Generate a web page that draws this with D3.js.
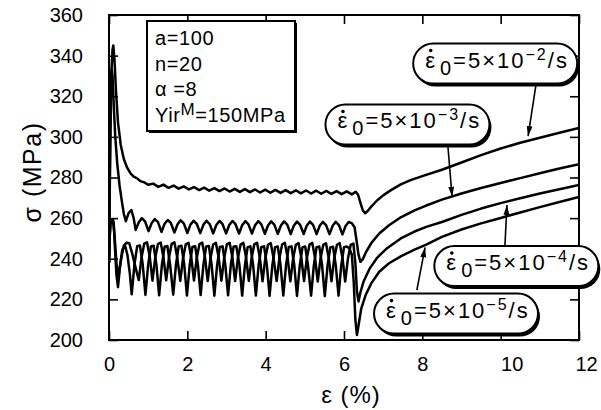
<!DOCTYPE html>
<html>
<head>
<meta charset="utf-8">
<script src="https://cdn.jsdelivr.net/npm/d3@7"></script>
<style>
  body { margin: 0; background: #fff; }
  svg { font-family: "Liberation Sans", Arial, sans-serif; }
</style>
</head>
<body>
<div id="ch"></div>
<script>
// Stress-strain curves, four strain rates

/* DATA : [strain %, stress MPa] */
const rate2 = [
  [0,238],[0.03,292],[0.06,331],[0.09,343],[0.11,345],[0.14,338],[0.18,322],[0.23,307],[0.3,296],[0.38,289],
  [0.46,285],[0.55,282],[0.63,280.4],[0.72,279.6],[0.8,278.2],[0.9,277.6],[1.0,276.4],
  [1.13,277],[1.26,275.4],[1.39,276.5],[1.52,274.9],[1.65,276],[1.78,274.5],[1.91,275.6],[2.04,274.1],
  [2.17,275.3],[2.3,273.8],[2.43,275],[2.56,273.5],[2.69,274.8],[2.82,273.3],[2.95,274.6],[3.08,273.1],
  [3.21,274.4],[3.34,272.9],[3.47,274.3],[3.6,272.8],[3.73,274.1],[3.86,272.6],[3.99,274],[4.12,272.5],
  [4.25,273.9],[4.38,272.4],[4.51,273.8],[4.64,272.3],[4.77,273.7],[4.9,272.2],[5.03,273.6],[5.16,272.1],
  [5.29,273.5],[5.42,272],[5.55,273.4],[5.68,271.9],[5.81,273.3],[5.94,271.8],[6.07,273.2],[6.2,271.7],[6.3,273],
  [6.36,271.5],[6.42,267.5],[6.48,263.8],[6.54,262.4],[6.6,263.4],[6.7,265.8],[6.85,268.8],[7.0,271.2],
  [7.2,273.8],[7.45,276.6],[7.7,278.7],[8.0,280.7],[8.5,283.8],[9.0,287.4],[9.5,291],[10.0,294.3],
  [10.5,297.1],[11.0,299.6],[11.5,302],[12.0,304.4]
];

const rate3 = [
  [0,238],[0.03,300],[0.05,327],[0.07,333],[0.09,330],[0.12,316],[0.16,300],[0.21,287],[0.27,276],[0.33,268],
  [0.38,262],[0.43,258.5],[0.5,262.5],[0.57,264],[0.63,260],
  [0.68,254.2],[0.76,258],[0.84,260],[0.92,258.4],
  [1.01,253.6],[1.09,257.6],[1.17,259.5],[1.25,258],
  [1.34,253.2],[1.42,257.2],[1.5,259.1],[1.58,257.6],
  [1.67,252.9],[1.75,257],[1.83,258.9],[1.91,257.4],
  [2.0,252.7],[2.08,256.8],[2.16,258.7],[2.24,257.2],
  [2.33,252.6],[2.41,256.7],[2.49,258.7],[2.57,257.1],
  [2.66,252.5],[2.74,256.6],[2.82,258.6],[2.9,257],
  [2.99,252.5],[3.07,256.6],[3.15,258.6],[3.23,257],
  [3.32,252.4],[3.4,256.5],[3.48,258.5],[3.56,256.9],
  [3.65,252.4],[3.73,256.5],[3.81,258.5],[3.89,256.9],
  [3.98,252.3],[4.06,256.4],[4.14,258.4],[4.22,256.8],
  [4.31,252.3],[4.39,256.4],[4.47,258.4],[4.55,256.8],
  [4.64,252.2],[4.72,256.3],[4.8,258.3],[4.88,256.7],
  [4.97,252.2],[5.05,256.3],[5.13,258.3],[5.21,256.7],
  [5.3,252.1],[5.38,256.2],[5.46,258.2],[5.54,256.6],
  [5.63,252.1],[5.71,256.2],[5.79,258.2],[5.87,256.6],
  [5.96,252],[6.04,256.1],[6.12,258.1],[6.2,257.5],[6.27,255.5],
  [6.32,249],[6.37,242],[6.42,238.5],[6.48,239.8],[6.56,243.2],[6.7,247.8],[6.9,252.4],[7.15,256.5],
  [7.45,260.4],[7.8,263.8],[8.1,266.2],[8.5,269.1],[9.0,272.1],[9.5,274.8],[10.0,277.3],[10.5,279.7],
  [11.0,282.1],[11.5,284.4],[12.0,286.6]
];

const rate4 = [
  [0,238],[0.02,252],[0.04,259],[0.1,259.5],[0.14,252],[0.19,238],[0.24,231],[0.31,240],[0.38,246.5],
  [0.45,248],[0.52,247.5],[0.6,242],[0.68,235.5],
  [0.76,229.5],[0.83,240.6],[0.9,247.4],[0.97,248.1],[1.04,241],
  [1.11,229.2],[1.18,240.4],[1.25,247.2],[1.32,248],[1.39,240.8],
  [1.46,229.4],[1.53,240.5],[1.6,247.3],[1.67,248.1],[1.74,240.9],
  [1.82,229.1],[1.89,240.3],[1.96,247.1],[2.03,247.9],[2.1,240.7],
  [2.17,229.3],[2.24,240.4],[2.31,247.2],[2.38,248],[2.45,240.8],
  [2.52,229],[2.59,240.2],[2.66,247],[2.73,247.8],[2.8,240.6],
  [2.87,229.2],[2.94,240.3],[3.01,247.1],[3.08,247.9],[3.15,240.7],
  [3.22,229],[3.29,240.2],[3.36,247],[3.43,247.8],[3.5,240.6],
  [3.57,229.1],[3.64,240.3],[3.71,247.1],[3.78,247.9],[3.85,240.7],
  [3.92,228.9],[3.99,240.1],[4.06,246.9],[4.13,247.7],[4.2,240.5],
  [4.28,229],[4.35,240.2],[4.42,247],[4.49,247.8],[4.56,240.6],
  [4.63,228.9],[4.7,240.1],[4.77,246.9],[4.84,247.7],[4.91,240.5],
  [4.98,229],[5.05,240.2],[5.12,247],[5.19,247.8],[5.26,240.6],
  [5.33,228.8],[5.4,240],[5.47,246.8],[5.54,247.6],[5.61,240.4],
  [5.68,228.9],[5.75,240.1],[5.82,246.9],[5.89,247.7],[5.96,240.5],
  [6.03,228.8],[6.1,240],[6.17,246.8],[6.24,247.5],
  [6.29,238],[6.33,224],[6.37,219],[6.42,223.5],[6.5,228.8],[6.65,235],[6.85,240.6],[7.1,245.2],
  [7.45,250],[7.8,253.4],[8.1,255.7],[8.5,258.1],[9.0,261.6],[9.5,264.7],[10.0,267.4],[10.5,269.8],
  [11.0,272.1],[11.5,274.2],[12.0,276.3]
];

const rate5 = [
  [0,238],[0.02,251],[0.04,257.5],[0.12,258],[0.15,246],[0.19,232],[0.23,226],[0.28,236],[0.34,244.5],
  [0.41,246.5],[0.47,242],[0.53,233],
  [0.58,222.5],[0.65,237.2],[0.72,246.2],[0.79,246.5],[0.86,237.4],
  [0.93,222.2],[1.0,237],[1.07,246],[1.14,246.4],[1.21,237.2],
  [1.28,222],[1.35,236.9],[1.42,245.9],[1.49,246.3],[1.56,237.1],
  [1.64,222.3],[1.71,237.1],[1.78,246.1],[1.85,246.4],[1.92,237.2],
  [1.99,221.9],[2.06,236.8],[2.13,245.8],[2.2,246.2],[2.27,237],
  [2.34,222.1],[2.41,237],[2.48,246],[2.55,246.3],[2.62,237.1],
  [2.69,221.8],[2.76,236.8],[2.83,245.8],[2.9,246.1],[2.97,236.9],
  [3.04,222],[3.11,236.9],[3.18,245.9],[3.25,246.2],[3.33,237],
  [3.4,221.8],[3.47,236.7],[3.54,245.7],[3.61,246.1],[3.68,236.9],
  [3.75,221.9],[3.82,236.8],[3.89,245.8],[3.96,246.1],[4.03,236.9],
  [4.1,221.7],[4.17,236.7],[4.24,245.7],[4.31,246],[4.38,236.8],
  [4.45,221.9],[4.52,236.8],[4.59,245.8],[4.66,246.1],[4.73,236.9],
  [4.8,221.7],[4.87,236.6],[4.94,245.6],[5.01,246],[5.08,236.8],
  [5.16,221.8],[5.23,236.7],[5.3,245.7],[5.37,246],[5.44,236.8],
  [5.51,221.6],[5.58,236.6],[5.65,245.6],[5.72,245.9],[5.79,236.7],
  [5.86,221.8],[5.93,236.7],[6.0,245.7],[6.07,246],[6.14,245],[6.2,242],
  [6.25,228],[6.29,210],[6.33,202.5],[6.37,207],[6.44,215.5],[6.55,222],[6.7,228],[6.9,233.6],
  [7.15,237.8],[7.45,241.2],[7.8,244.5],[8.1,247],[8.5,250.8],[9.0,254.4],[9.5,257.4],[10.0,260.1],
  [10.5,262.8],[11.0,265.4],[11.5,267.9],[12.0,270.4]
];

const curves = [rate2, rate3, rate4, rate5];
const rateExps = ["\u22122", "\u22123", "\u22124", "\u22125"];

const xTicks = [0, 2, 4, 6, 8, 10, 12];
const yTicks = [200, 220, 240, 260, 280, 300, 320, 340, 360];

const params = [["a=100"], ["n=20"], ["\u03b1 =8"], ["Yir", "M", "=150MPa"]];

/* Dimensions */

const width = 601;
const height = 410;
const pLeft = 109, pRight = 579, pTop = 15, pBottom = 340;

const svg = d3
  .select("#ch")
  .append("svg")
  .attr("width", width)
  .attr("height", height)
  .style("background", "#fff");

const x = d3.scaleLinear().domain([0, 12]).range([pLeft, pRight]);
const y = d3.scaleLinear().domain([200, 360]).range([pBottom, pTop]);

svg.append("clipPath").attr("id", "clip")
  .append("rect").attr("x", pLeft).attr("y", pTop)
  .attr("width", pRight - pLeft).attr("height", pBottom - pTop);

/* Axes - ticks inward on all four sides */

const styleAxis = (g) => {
  g.select(".domain").remove();
  g.selectAll("line").attr("stroke", "#000").attr("stroke-width", 1.6);
  g.selectAll("text").attr("fill", "#000").style("font-size", "20px")
    .style("font-family", "'Liberation Sans', Arial, sans-serif");
};

svg.append("g")
  .attr("transform", `translate(0,${pBottom})`)
  .call(d3.axisBottom(x).tickValues(xTicks).tickSizeInner(-9).tickSizeOuter(0).tickPadding(17))
  .call(styleAxis)
  .call((g) => g.selectAll("text").attr("dx", (d) => (d == 10 ? 11 : d == 12 ? 7 : 0)));

svg.append("g")
  .attr("transform", `translate(0,${pTop})`)
  .call(d3.axisTop(x).tickValues(xTicks).tickSizeInner(-9).tickSizeOuter(0).tickFormat(""))
  .call(styleAxis);

svg.append("g")
  .attr("transform", `translate(${pLeft},0)`)
  .call(d3.axisLeft(y).tickValues(yTicks).tickSizeInner(-9).tickSizeOuter(0).tickPadding(26))
  .call(styleAxis);

svg.append("g")
  .attr("transform", `translate(${pRight},0)`)
  .call(d3.axisRight(y).tickValues(yTicks).tickSizeInner(-9).tickSizeOuter(0).tickFormat(""))
  .call(styleAxis);

svg.append("rect")
  .attr("x", pLeft).attr("y", pTop)
  .attr("width", pRight - pLeft).attr("height", pBottom - pTop)
  .attr("fill", "none").attr("stroke", "#000").attr("stroke-width", 2);

/* Axis titles */

svg.append("text")
  .attr("x", 351).attr("y", 403)
  .attr("text-anchor", "middle")
  .style("font-size", "24px").style("letter-spacing", "1px")
  .text("\u03b5 (%)");

svg.append("text")
  .attr("transform", "translate(41,172) rotate(-90)")
  .attr("text-anchor", "middle")
  .style("font-size", "25px").style("letter-spacing", "1.5px")
  .text("\u03c3 (MPa)");

/* Curves */

const line = d3.line().x((d) => x(d[0])).y((d) => y(d[1]));

svg.append("g")
  .attr("clip-path", "url(#clip)")
  .selectAll("path")
  .data(curves)
  .enter()
  .append("path")
  .attr("d", line)
  .attr("fill", "none")
  .attr("stroke", "#000")
  .attr("stroke-width", 2.5)
  .attr("stroke-linejoin", "round");

/* Parameter box */

const bx = pLeft + 38, by = pTop + 6, bw = 148, bh = 110;
svg.append("rect").attr("x", bx + 2).attr("y", by + 2).attr("width", bw).attr("height", bh).attr("fill", "#000");
svg.append("rect").attr("x", bx).attr("y", by).attr("width", bw).attr("height", bh)
  .attr("fill", "#fff").attr("stroke", "#000").attr("stroke-width", 2);

params.forEach((p, i) => {
  const t = svg.append("text")
    .attr("x", bx + 8).attr("y", by + 24 + i * 25.7)
    .style("font-size", "20px").style("letter-spacing", "0.6px");
  t.append("tspan").text(p[0]);
  if (p.length > 1) {
    t.append("tspan").attr("dy", -7).style("font-size", "17px").text(p[1]);
    t.append("tspan").attr("dy", 7).text(p[2]);
  }
});

/* Rate labels with arrows */

svg.append("defs").append("marker")
  .attr("id", "arr").attr("viewBox", "0 0 10 6")
  .attr("refX", 10).attr("refY", 3)
  .attr("markerWidth", 10).attr("markerHeight", 6)
  .attr("markerUnits", "userSpaceOnUse")
  .attr("orient", "auto")
  .append("path").attr("d", "M0,0 L10,3 L0,6 Z").attr("fill", "#000");

const notes = [
  { cx: 9.86, cy: 336.1, from: [10.9, 325.5], to: [10.7, 300.4] },
  { cx: 7.62, cy: 306.1, from: [8.65, 296], to: [8.76, 270.6] },
  { cx: 10.4, cy: 236.4, from: [10.11, 246.8], to: [10.16, 266.5] },
  { cx: 8.86, cy: 213.0, from: [7.86, 224.6], to: [8.07, 245.6] }
];

notes.forEach((n, i) => {
  svg.append("line")
    .attr("x1", x(n.from[0])).attr("y1", y(n.from[1]))
    .attr("x2", x(n.to[0])).attr("y2", y(n.to[1]))
    .attr("stroke", "#000").attr("stroke-width", 1.6)
    .attr("marker-end", "url(#arr)");

  const w = 164, h = 40;
  const g = svg.append("g").attr("transform", `translate(${x(n.cx) - w / 2},${y(n.cy) - h / 2})`);
  g.append("rect").attr("x", 2).attr("y", 3).attr("width", w).attr("height", h).attr("rx", h / 2).attr("fill", "#000");
  g.append("rect").attr("width", w).attr("height", h).attr("rx", h / 2)
    .attr("fill", "#fff").attr("stroke", "#000").attr("stroke-width", 2);

  /* dot over the epsilon (rate) */
  g.append("circle").attr("cx", 17.5).attr("cy", 7).attr("r", 1.8).attr("fill", "#000");

  const t = g.append("text").attr("x", 12).attr("y", h / 2 + 4)
    .style("font-size", "22px").style("letter-spacing", "2px");
  t.append("tspan").text("\u03b5");
  t.append("tspan").attr("dx", 3).attr("dy", 7).style("font-size", "20px").text("0");
  t.append("tspan").attr("dy", -7).text("=5\u00d710");
  t.append("tspan").attr("dy", -8).style("font-size", "16px").text(rateExps[i]);
  t.append("tspan").attr("dy", 8).text("/s");
});
</script>
</body>
</html>
